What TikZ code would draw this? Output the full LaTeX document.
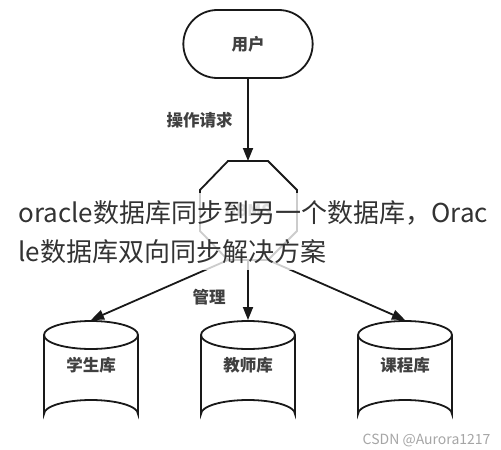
\documentclass[tikz,border=0pt]{standalone}
\usepackage{fontspec}
\setmainfont{Noto Sans CJK SC}
\usetikzlibrary{arrows.meta,shapes.geometric,shapes.misc}
\begin{document}
\begin{tikzpicture}[x=1pt,y=-1pt,
  line/.style={line width=1.8pt,draw=black!90},
  arr/.style={line,-{Triangle[length=13pt,width=10pt]}},
  lbl/.style={font=\fontsize{16.5}{18}\selectfont\bfseries,text=black!75},
  cyl/.style={line,fill=white}]
\useasboundingbox (0,0) rectangle (501,450);
\fill[white] (0,0) rectangle (501,450);
% user
\node[line,rounded rectangle,minimum width=136pt,minimum height=68pt,font=\fontsize{16.5}{18}\selectfont\bfseries,text=black!75] (user) at (248,44) {用户};
% octagon
\draw[line,line join=miter] (228,161) -- (268,161) -- (297,190) -- (297,231) -- (268,260) -- (228,260) -- (200,231) -- (200,190) -- cycle;
\node[font=\fontsize{16}{18}\selectfont\bfseries,text=black!60] (dbms) at (248,210.5) {DBMS};
\coordinate (otop) at (248,161);
\draw[arr] (user.south) -- (otop);
\node[lbl,anchor=west] (req) at (163,120) {操作请求};
% cylinders
\foreach \n/\x/\t in {c1/91/学生库,c2/248/教师库,c3/405/课程库}{
  \draw[cyl] (\x-47,335) -- (\x-47,414) arc[start angle=180,end angle=360,x radius=47,y radius=14] -- (\x+47,335);
  \draw[cyl] (\x,335) ellipse[x radius=47,y radius=14];
  \coordinate (\n top) at (\x,320);
  \node[lbl] (\n) at (\x,365) {\t};
}
\coordinate (bl) at (228,260);
\coordinate (br) at (268,260);
\coordinate (bm) at (248,260);
\draw[arr] (bl) -- (c1top);
\draw[arr] (bm) -- (c2top);
\draw[arr] (br) -- (c3top);
\node[lbl,anchor=west] (mgmt) at (189,297) {管理};
% overlay title
\fill[white,opacity=0.78] (8,193) rectangle (493,270);
\node[anchor=west,font=\fontsize{26}{30}\selectfont,text=black!80] (t1) at (15,213) {oracle数据库同步到另一个数据库，Orac};
\node[anchor=west,font=\fontsize{26}{30}\selectfont,text=black!80] (t2) at (15,252) {le数据库双向同步解决方案};
% watermark
\node[anchor=east,font=\fontsize{14}{16}\selectfont,text=black!35] (wm) at (494,440) {CSDN @Aurora1217};
\end{tikzpicture}
\end{document}
